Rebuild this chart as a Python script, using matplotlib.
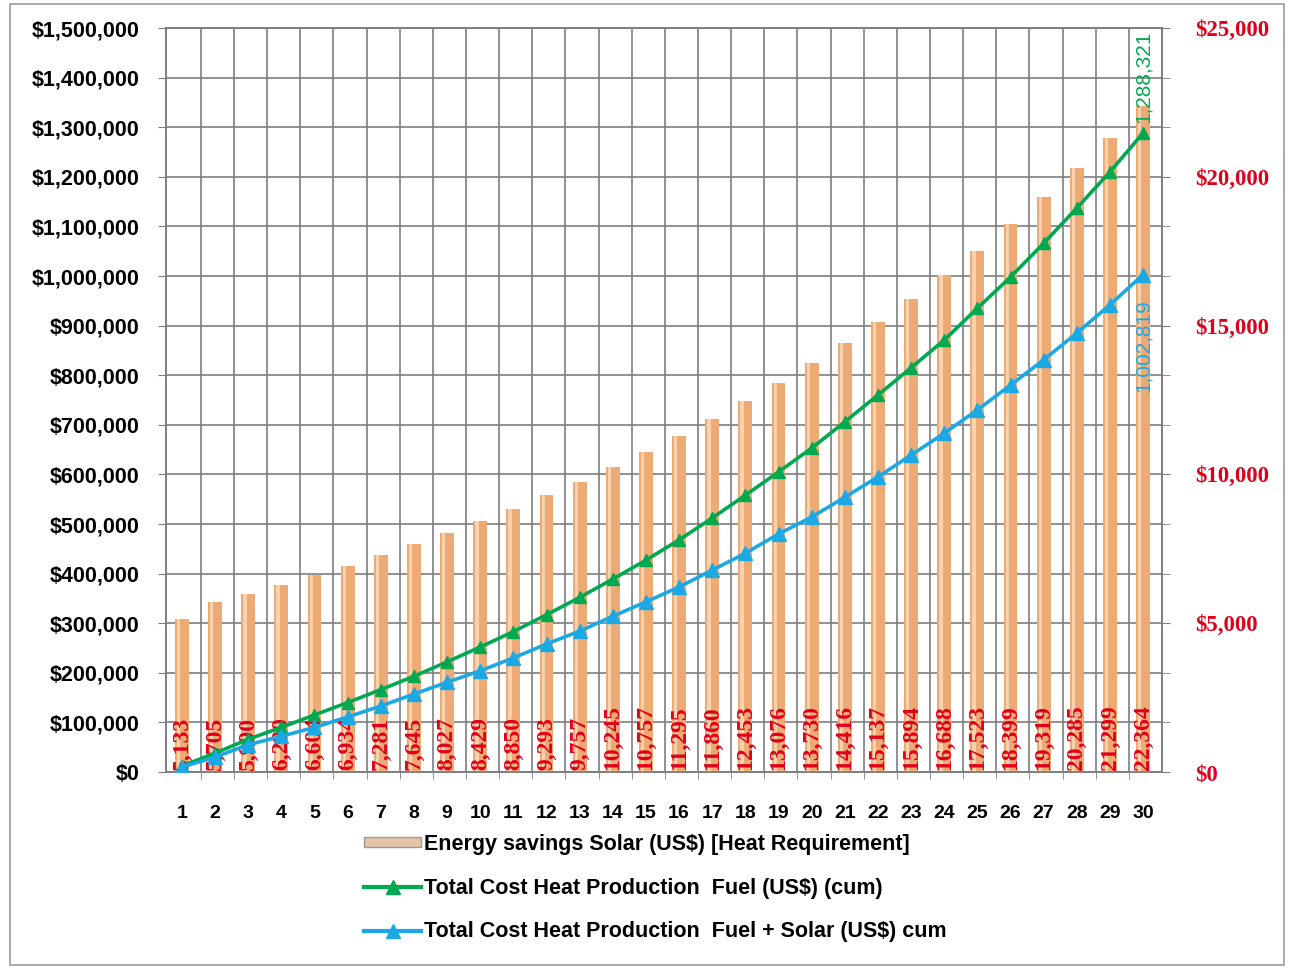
import numpy as np
import matplotlib
matplotlib.use("Agg")
import matplotlib.pyplot as plt
from matplotlib.patches import Rectangle, Patch
from matplotlib.lines import Line2D
from matplotlib.ticker import FuncFormatter

# ---------------- data ----------------
years = list(range(1, 31))
savings = [5133, 5705, 5990, 6290, 6604, 6934, 7281, 7645, 8027, 8429,
           8850, 9293, 9757, 10245, 10757, 11295, 11860, 12453, 13076, 13730,
           14416, 15137, 15894, 16688, 17523, 18399, 19319, 20285, 21299, 22364]
fuel_cum = [12000, 38000, 66000, 90000, 115000, 140000, 166000, 193000, 222000, 252000,
            283000, 317000, 352000, 389000, 427000, 468000, 512000, 558000, 605000, 653000,
            706000, 760000, 815000, 871000, 935000, 998000, 1066000, 1137000, 1210000, 1288321]
solar_cum = [10000, 30000, 55000, 72000, 90000, 111000, 133000, 157000, 181000, 204000,
             230000, 258000, 284000, 314000, 343000, 373000, 407000, 441000, 480000, 514000,
             554000, 595000, 639000, 683000, 730000, 780000, 831000, 885000, 942000, 1002819]
legend_labels = ["Energy savings Solar (US$) [Heat Requirement]",
                 "Total Cost Heat Production  Fuel (US$) (cum)",
                 "Total Cost Heat Production  Fuel + Solar (US$) cum"]

# ---------------- style ----------------
BAR_C = "#EEAA74"
BAR_HI = "#F8D2AC"
GREEN = "#00A84F"
BLUE = "#1BA9E6"
RED = "#E0001B"
GRID = "#7E7E7E"
SANS = "Liberation Sans"
SERIF = "Liberation Serif"

W, H = 1294, 969
fig = plt.figure(figsize=(W / 100, H / 100), dpi=100)
fig.patch.set_facecolor("white")
fig.patches.append(Rectangle((10 / W, 4 / H), 1274 / W, 961 / H, transform=fig.transFigure,
                             fill=False, edgecolor="#9A9A9A", lw=1.2))

pos = [166 / W, 1 - 772 / H, (1162 - 166) / W, (772 - 28) / H]
ax = fig.add_axes(pos)            # grid + left axis
ax2 = ax.twinx()                   # bars + right axis
ax3 = fig.add_axes(pos, sharex=ax, sharey=ax)  # lines on top
ax.set_zorder(0)
ax2.set_zorder(1)
ax3.set_zorder(2)
ax2.patch.set_visible(False)
ax3.patch.set_visible(False)
ax3.axis("off")

x = np.array(years, dtype=float)
ax.set_xlim(0.52, 30.57)
ax.set_ylim(0, 1500000)
ax2.set_ylim(0, 25000)

# grid
ax.set_yticks(np.arange(0, 1500001, 100000))
ax.yaxis.set_major_formatter(FuncFormatter(lambda v, p: "${:,.0f}".format(v)))
ax.grid(axis="y", color=GRID, lw=1.2)
ax.set_xticks(x)
ax.set_xticks(x[:-1] + 0.57, minor=True)
ax.grid(axis="x", which="minor", color=GRID, lw=1.2)
ax.tick_params(axis="x", which="major", length=0, pad=24)
ax.tick_params(axis="x", which="minor", length=5, color=GRID, direction="out")
ax.tick_params(axis="y", length=6, color=GRID, direction="out", pad=13)
for lab in ax.get_xticklabels():
    lab.set_fontfamily(SANS)
    lab.set_fontweight("bold")
    lab.set_fontsize(14)
for lab in ax.get_yticklabels():
    lab.set_fontfamily(SANS)
    lab.set_fontweight("bold")
    lab.set_fontsize(15.5)
for sp in ax.spines.values():
    sp.set_color(GRID)
    sp.set_linewidth(1.2)
for sp in ax2.spines.values():
    sp.set_color(GRID)
    sp.set_linewidth(1.2)

# right axis
ax2.set_yticks(np.arange(0, 25001, 5000))
ax2.set_yticks(np.linspace(0, 25000, 16), minor=True)
ax2.yaxis.set_major_formatter(FuncFormatter(lambda v, p: "${:,.0f}".format(v)))
ax2.tick_params(axis="y", which="both", length=6, color=GRID, direction="out", pad=18)
for lab in ax2.get_yticklabels():
    lab.set_fontfamily(SERIF)
    lab.set_fontweight("bold")
    lab.set_fontsize(16.5)
    lab.set_color(RED)

# bars (cylinder-like: base colour plus a light highlight stripe)
ax2.bar(x, savings, width=0.42, color=BAR_C, edgecolor="none", zorder=2)
ax2.bar(x - 0.1, savings, width=0.1, color=BAR_HI, edgecolor="none", zorder=2.1)
for xi, v in zip(x, savings):
    ax2.text(xi, 80, "{:,}".format(v), rotation=90, ha="center", va="bottom",
             color=RED, fontsize=17, fontfamily=SERIF, fontweight="bold", zorder=3)

# lines
ax3.plot(x, fuel_cum, color=GREEN, lw=2.6, marker="^", ms=8, mfc=GREEN, mec=GREEN, zorder=4)
ax3.plot(x, solar_cum, color=BLUE, lw=2.6, marker="^", ms=10, mfc=BLUE, mec=BLUE, zorder=5)
ax3.text(x[-1], fuel_cum[-1] + 20000, "{:,}".format(fuel_cum[-1]), rotation=90,
         ha="center", va="bottom", color=GREEN, fontsize=15, fontfamily=SANS, clip_on=False)
ax3.text(x[-1], solar_cum[-1] - 50000, "{:,}".format(solar_cum[-1]), rotation=90,
         ha="center", va="top", color=BLUE, fontsize=15, fontfamily=SANS)

# legend
handles = [Patch(facecolor="#E3C4A6", edgecolor="#9A9A9A", lw=1.0),
           Line2D([], [], color=GREEN, lw=3, marker="^", ms=10, mfc=GREEN, mec=GREEN),
           Line2D([], [], color=BLUE, lw=3, marker="^", ms=10, mfc=BLUE, mec=BLUE)]
leg = fig.legend(handles, legend_labels, loc="upper left",
                 bbox_to_anchor=(364 / W, 1 - 834 / H), frameon=False,
                 prop={"family": SANS, "weight": "bold", "size": 15.5},
                 handlelength=2.65, handleheight=0.35, handletextpad=0.15,
                 labelspacing=1.05, borderaxespad=0, borderpad=0)

fig.savefig("out.png", dpi=100, facecolor="white")
